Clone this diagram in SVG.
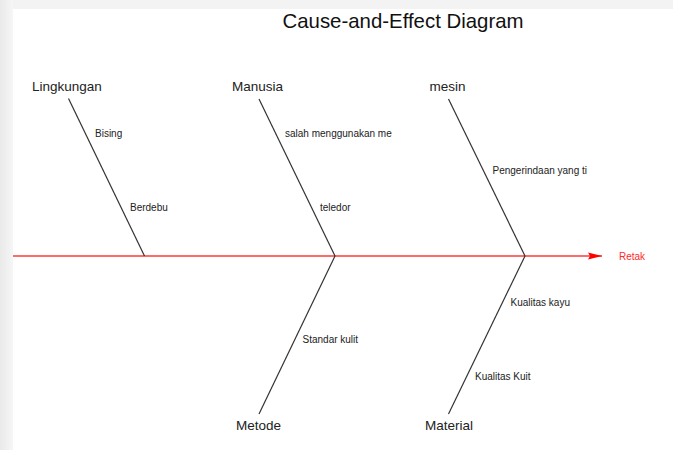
<svg xmlns="http://www.w3.org/2000/svg" width="673" height="450" viewBox="0 0 673 450">
<defs>
<linearGradient id="lg" x1="0" y1="0" x2="1" y2="0">
<stop offset="0" stop-color="#e9e9e9"/>
<stop offset="1" stop-color="#f6f6f6"/>
</linearGradient>
<marker id="ah" markerWidth="14" markerHeight="8" refX="14" refY="4" orient="auto" markerUnits="userSpaceOnUse">
<path d="M0,0.5 L14,4 L0,7.5 L2,4 Z" fill="#ff0000"/>
</marker>
<style>
.t{font-family:"Liberation Sans",Arial,sans-serif;fill:#222}
.cat{font-size:13.5px}
.cause{font-size:10px}
.title{font-size:20.4px;fill:#111}
.eff{font-size:10px;fill:#ff2a2a;font-family:"Liberation Sans",Arial,sans-serif}
.bone{stroke:#333;stroke-width:1.2;fill:none}
.spine{stroke:#ff6a6a;stroke-width:1.8;fill:none}
</style>
</defs>
<rect x="0" y="0" width="673" height="450" fill="#f3f3f3"/>
<rect x="0" y="0" width="13" height="450" fill="url(#lg)"/>
<rect x="13" y="9" width="660" height="441" fill="#ffffff"/>
<text class="t title" x="403" y="28" text-anchor="middle">Cause-and-Effect Diagram</text>
<g id="connectors">
<line class="spine" x1="13" y1="256" x2="602" y2="256" marker-end="url(#ah)"/>
<line class="bone" x1="68.5" y1="98.5" x2="144.5" y2="256"/>
<line class="bone" x1="259" y1="99" x2="335" y2="256"/>
<line class="bone" x1="448.5" y1="99" x2="525" y2="256"/>
<line class="bone" x1="335" y1="256" x2="259" y2="414"/>
<line class="bone" x1="525" y1="256" x2="448.5" y2="414"/>
</g>
<g id="effect-retak"><text class="eff" x="619" y="259.5">Retak</text></g>
<g id="cat-lingkungan">
<text class="t cat" x="32" y="90.5">Lingkungan</text>
<text class="t cause" x="95" y="136.5">Bising</text>
<text class="t cause" x="130" y="210.5">Berdebu</text>
</g>
<g id="cat-manusia">
<text class="t cat" x="232" y="90.5">Manusia</text>
<text class="t cause" x="285" y="136.5">salah menggunakan me</text>
<text class="t cause" x="320" y="210.5">teledor</text>
</g>
<g id="cat-mesin">
<text class="t cat" x="429.5" y="90.5">mesin</text>
<text class="t cause" x="492.5" y="173.5">Pengerindaan yang ti</text>
</g>
<g id="cat-metode">
<text class="t cat" x="236" y="429.5">Metode</text>
<text class="t cause" x="302.5" y="343">Standar kulit</text>
</g>
<g id="cat-material">
<text class="t cat" x="425" y="429.5">Material</text>
<text class="t cause" x="510.5" y="306">Kualitas kayu</text>
<text class="t cause" x="475" y="380">Kualitas Kuit</text>
</g>
</svg>
